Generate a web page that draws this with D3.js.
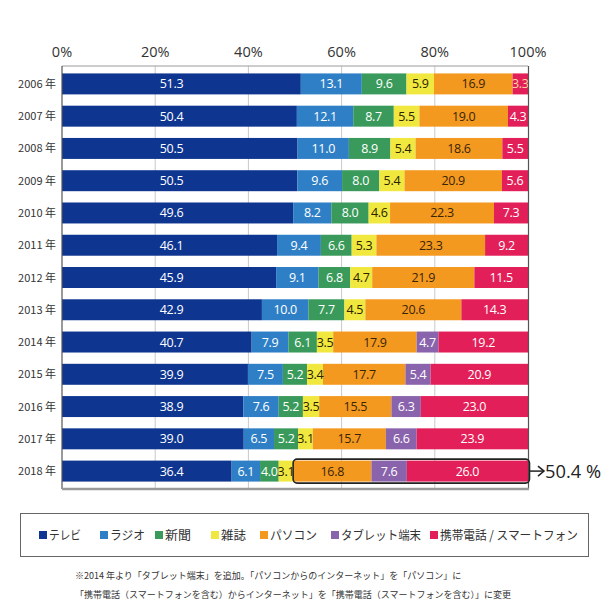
<!DOCTYPE html>
<html><head><meta charset="utf-8">
<script src="https://cdn.jsdelivr.net/npm/d3@7"></script>
<style>
html,body{margin:0;padding:0;background:#fff;}
text{font-family:"Noto Sans CJK JP","Noto Sans",sans-serif;}
</style></head>
<body><svg id="c" width="609" height="609"></svg>
<script>
const years = ["2006 年","2007 年","2008 年","2009 年","2010 年","2011 年","2012 年","2013 年","2014 年","2015 年","2016 年","2017 年","2018 年"];
const seriesNames = ["テレビ","ラジオ","新聞","雑誌","パソコン","タブレット端末","携帯電話 / スマートフォン"];
const seriesColors = ["#0e358f","#2f7fc6","#3a9a5b","#f1e83f","#f3991f","#8963ab","#e21f58"];
const labelColors = ["#fff","#fff","#fff","#2a2200","#3a2408","#fff","#fff"];
const tv =        [51.3,50.4,50.5,50.5,49.6,46.1,45.9,42.9,40.7,39.9,38.9,39.0,36.4];
const radio =     [13.1,12.1,11.0,9.6,8.2,9.4,9.1,10.0,7.9,7.5,7.6,6.5,6.1];
const newspaper = [9.6,8.7,8.9,8.0,8.0,6.6,6.8,7.7,6.1,5.2,5.2,5.2,4.0];
const magazine =  [5.9,5.5,5.4,5.4,4.6,5.3,4.7,4.5,3.5,3.4,3.5,3.1,3.1];
const pc =        [16.9,19.0,18.6,20.9,22.3,23.3,21.9,20.6,17.9,17.7,15.5,15.7,16.8];
const tablet =    [null,null,null,null,null,null,null,null,4.7,5.4,6.3,6.6,7.6];
const mobile =    [3.3,4.3,5.5,5.6,7.3,9.2,11.5,14.3,19.2,20.9,23.0,23.9,26.0];
const xTicks = [0,20,40,60,80,100];
const highlightTotal = "50.4 %";
const notes = ["※2014 年より「タブレット端末」を追加。「パソコンからのインターネット」を「パソコン」に",
               "「携帯電話（スマートフォンを含む）からインターネット」を「携帯電話（スマートフォンを含む）」に変更"];

const series = [tv,radio,newspaper,magazine,pc,tablet,mobile];
const svg = d3.select("#c");
const L=62, R=528, T=66, B=489;
const x = d3.scaleLinear().domain([0,100]).range([L,R]);
const y = d3.scaleBand().domain(years).range([T,B]).paddingInner(0.35).paddingOuter(0.23);

// gridlines
svg.append("g").selectAll("line").data(xTicks.filter(d=>d>0&&d<100)).join("line")
  .attr("x1",d=>x(d)).attr("x2",d=>x(d)).attr("y1",T).attr("y2",B)
  .attr("stroke","#c9c9c9").attr("stroke-width",1);
// top axis labels
svg.append("g").selectAll("text").data(xTicks).join("text")
  .attr("x",d=>x(d)).attr("y",T-9).attr("text-anchor","middle")
  .attr("font-size",14.5).attr("fill","#333").style("font-family","'Open Sans',sans-serif")
  .text(d=>d+"%");

// stacked data
const rows = years.map((yr,i)=>{
  const vals = series.map(s=>s[i]||0);
  const sum = d3.sum(vals);
  let acc=0;
  return vals.map((v,k)=>{const s=acc/sum*100; acc+=v; return {yr,k,v,x0:s,x1:acc/sum*100, raw:series[k][i]};});
});
const segs = rows.flat().filter(d=>d.raw!=null);

svg.append("g").selectAll("rect").data(segs).join("rect")
  .attr("x",d=>x(d.x0)).attr("width",d=>x(d.x1)-x(d.x0))
  .attr("y",d=>y(d.yr)).attr("height",y.bandwidth())
  .attr("fill",d=>seriesColors[d.k]);

svg.append("g").selectAll("text").data(segs).join("text")
  .attr("x",d=> d.k===0 ? x(23.5) : (x(d.x0)+x(d.x1))/2)
  .attr("y",d=>y(d.yr)+y.bandwidth()/2+4.5)
  .attr("text-anchor","middle").attr("font-size",12.5)
  .style("font-family","'Open Sans',sans-serif").attr("letter-spacing","-0.3")
  .attr("fill",d=> (d.k===6 && d.v<4) ? "#ffd9a0" : labelColors[d.k])
  .text(d=>d.v.toFixed(1));

// frame
svg.append("line").attr("x1",L).attr("x2",R).attr("y1",T).attr("y2",T).attr("stroke","#9a9a9a");
svg.append("line").attr("x1",L).attr("x2",L).attr("y1",T).attr("y2",B).attr("stroke","#555").attr("stroke-width",1.2);
svg.append("line").attr("x1",R+0.5).attr("x2",R+0.5).attr("y1",T).attr("y2",B).attr("stroke","#555").attr("stroke-width",1.2);
svg.append("line").attr("x1",L).attr("x2",R+1).attr("y1",B).attr("y2",B).attr("stroke","#9a9a9a").attr("stroke-width",2.5);

// year labels
svg.append("g").selectAll("text").data(years).join("text")
  .attr("x",L-6).attr("y",d=>y(d)+y.bandwidth()/2+4).attr("text-anchor","end")
  .attr("font-size",11).attr("fill","#333").text(d=>d);

// highlight 2018
const last = rows[rows.length-1];
const hx0 = x(last[4].x0), hx1 = x(100);
const hy = y(years[years.length-1]);
svg.append("rect").attr("x",hx0).attr("y",hy-1.5).attr("width",hx1-hx0+1.5).attr("height",y.bandwidth()+3)
  .attr("rx",4).attr("fill","none").attr("stroke","#222").attr("stroke-width",1.6);
const ay = hy+y.bandwidth()/2;
svg.append("line").attr("x1",hx1+2).attr("x2",hx1+16).attr("y1",ay).attr("y2",ay).attr("stroke","#222").attr("stroke-width",1.5);
svg.append("path").attr("d",`M${hx1+10},${ay-5}L${hx1+16},${ay}L${hx1+10},${ay+5}`).attr("fill","none").attr("stroke","#222").attr("stroke-width",1.5);
svg.append("text").attr("x",hx1+17).attr("y",ay+7).attr("font-size",19).attr("fill","#222")
  .attr("textLength",56).attr("lengthAdjust","spacingAndGlyphs")
  .style("font-family","'Open Sans',sans-serif").text(highlightTotal);

// legend
svg.append("rect").attr("x",20.5).attr("y",513.5).attr("width",568).attr("height",43)
  .attr("fill","none").attr("stroke","#666").attr("stroke-width",1);
const legX = [39,100,155,211,260,331,430];
const legW = [32,35,26,25,47,80,138];
const lg = svg.append("g").selectAll("g").data(seriesNames).join("g")
  .attr("transform",(d,i)=>`translate(${legX[i]},535)`);
lg.append("rect").attr("x",0).attr("y",-4).attr("width",8).attr("height",8).attr("fill",(d,i)=>seriesColors[i]);
lg.append("text").attr("x",10).attr("y",4.5).attr("font-size",12.5).attr("fill","#333")
  .attr("textLength",(d,i)=>legW[i]).attr("lengthAdjust","spacingAndGlyphs").text(d=>d);

// notes
svg.append("g").selectAll("text").data(notes).join("text")
  .attr("x",75).attr("y",(d,i)=>579+i*19).attr("font-size",9).attr("fill","#333").text(d=>d);
</script></body></html>
